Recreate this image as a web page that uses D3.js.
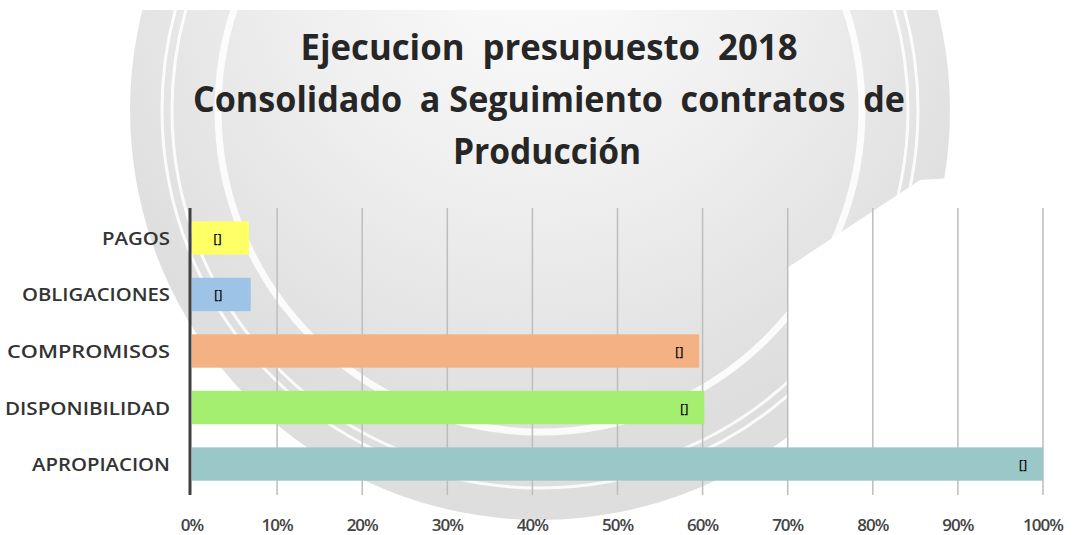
<!DOCTYPE html>
<html lang="en">
<head>
<meta charset="utf-8">
<title>Ejecucion presupuesto 2018</title>
<script src="https://d3js.org/d3.v7.min.js"></script>
<style>
  body { margin: 0; background: #fff; }
  text { font-family: "Open Sans", "DejaVu Sans", sans-serif; white-space: pre; }
</style>
</head>
<body>
<div id="chart"></div>
<script>
// data
var categories = ["PAGOS", "OBLIGACIONES", "COMPROMISOS", "DISPONIBILIDAD", "APROPIACION"];
var values = [0.067, 0.069, 0.596, 0.602, 1.0];
var barColors = ["#ffff66", "#9dc3e6", "#f4b183", "#a4ef70", "#9ac8c8"];
var tickValues = [0, 0.1, 0.2, 0.3, 0.4, 0.5, 0.6, 0.7, 0.8, 0.9, 1.0];
var titleLines = ["Ejecucion  presupuesto  2018", "Consolidado  a Seguimiento  contratos  de", "Producción"];

var w = 1076, h = 535;
var svg = d3.select("#chart").append("svg")
  .attr("width", w).attr("height", h);

// decorative background (grey disc with white rings)
var defs = svg.append("defs");
var grad = defs.append("radialGradient").attr("id", "bg")
  .attr("cx", "50%").attr("cy", "30%").attr("r", "60%");
grad.append("stop").attr("offset", "0%").attr("stop-color", "#fcfcfc");
grad.append("stop").attr("offset", "50%").attr("stop-color", "#efefef");
grad.append("stop").attr("offset", "100%").attr("stop-color", "#dedede");
defs.append("clipPath").attr("id", "clipBg")
  .append("polygon")
  .attr("points", "0,10 1076,10 1076,170 920,180 787,268 787,492 760,492 760,535 0,535");

var bg = svg.append("g").attr("clip-path", "url(#clipBg)");
bg.append("circle").attr("cx", 540).attr("cy", 110).attr("r", 410)
  .attr("fill", "url(#bg)");
[[378, 3], [368, 3], [322, 7]].forEach(function(r) {
  bg.append("circle").attr("cx", 540).attr("cy", 110).attr("r", r[0])
    .attr("fill", "none").attr("stroke", "#fff")
    .attr("stroke-width", r[1]).attr("opacity", 0.85);
});

// title
svg.append("g").selectAll("text")
  .data(titleLines)
  .enter().append("text")
  .attr("x", function(d, i) { return [549, 549, 547][i]; })
  .attr("y", function(d, i) { return 60 + i * 52; })
  .attr("text-anchor", "middle")
  .attr("font-size", 35)
  .attr("font-weight", "bold")
  .attr("fill", "#262626")
  .attr("textLength", function(d, i) { return [497, 712, 188][i]; })
  .attr("lengthAdjust", "spacingAndGlyphs")
  .text(function(d) { return d; });

// scales
var x = d3.scaleLinear().domain([0, 1]).range([192, 1043]);
var y = d3.scaleBand().domain(categories).range([210, 492]).paddingInner(0.41).paddingOuter(0.2);

// gridlines + tick marks
svg.append("g").selectAll("line")
  .data(tickValues.slice(1))
  .enter().append("line")
  .attr("x1", function(d) { return x(d); })
  .attr("x2", function(d) { return x(d); })
  .attr("y1", 208).attr("y2", 495)
  .attr("stroke", "#bdbdbd").attr("stroke-width", 1.5);

// bars
svg.append("g").selectAll("rect")
  .data(categories)
  .enter().append("rect")
  .attr("x", x(0))
  .attr("y", function(d) { return y(d); })
  .attr("width", function(d, i) { return x(values[i]) - x(0); })
  .attr("height", y.bandwidth())
  .attr("fill", function(d, i) { return barColors[i]; });

// data labels "[]"
svg.append("g").selectAll("text")
  .data(categories)
  .enter().append("text")
  .attr("x", function(d, i) {
    var end = x(values[i]);
    return (end - x(0) < 80) ? (x(0) + end) / 2 - 3 : end - 20;
  })
  .attr("y", function(d) { return y(d) + y.bandwidth() / 2 + 5; })
  .attr("text-anchor", "middle")
  .attr("font-size", 13)
  .attr("font-weight", 600)
  .attr("fill", "#111")
  .text("[]");

// axis line at 0
svg.append("line")
  .attr("x1", 190).attr("x2", 190).attr("y1", 208).attr("y2", 495)
  .attr("stroke", "#404040").attr("stroke-width", 3);

// category labels
var labelWidths = [68, 148, 163, 165, 138];
svg.append("g").selectAll("text")
  .data(categories)
  .enter().append("text")
  .attr("x", 170)
  .attr("y", function(d) { return y(d) + y.bandwidth() / 2 + 7; })
  .attr("text-anchor", "end")
  .attr("font-size", 18)
  .attr("font-weight", 600)
  .attr("fill", "#333")
  .attr("textLength", function(d, i) { return labelWidths[i]; })
  .attr("lengthAdjust", "spacingAndGlyphs")
  .text(function(d) { return d; });

// x tick labels
svg.append("g").selectAll("text")
  .data(tickValues)
  .enter().append("text")
  .attr("x", function(d) { return x(d); })
  .attr("y", 531)
  .attr("text-anchor", "middle")
  .attr("font-size", 17)
  .attr("font-weight", 600)
  .attr("fill", "#444")
  .attr("letter-spacing", -1)
  .text(d3.format(".0%"));
</script>
</body>
</html>
